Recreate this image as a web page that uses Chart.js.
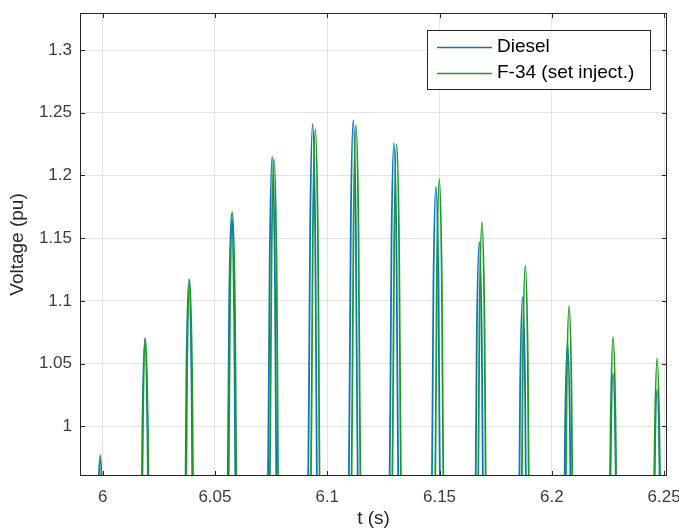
<!DOCTYPE html>
<html>
<head>
<meta charset="utf-8">
<script src="https://cdn.jsdelivr.net/npm/chart.js@4.4.1/dist/chart.umd.min.js"></script>
<style>
  html, body { margin: 0; padding: 0; background: #fff; }
  #wrap { width: 679px; height: 528px; }
</style>
</head>
<body>
<div id="wrap"><canvas id="voltChart" width="679" height="528"></canvas></div>
<script>
// voltage peaks, 5 points per peak (rest of the wave is below the axis)
const dieselT = [
  5.9964, 5.9977, 5.9988, 5.9999, 6.0012,
  6.0164, 6.0177, 6.0188, 6.0199, 6.0212,
  6.0360, 6.0373, 6.0384, 6.0395, 6.0408,
  6.0550, 6.0563, 6.0574, 6.0585, 6.0598,
  6.0731, 6.0744, 6.0755, 6.0766, 6.0779,
  6.0911, 6.0924, 6.0935, 6.0946, 6.0959,
  6.1092, 6.1105, 6.1116, 6.1127, 6.1140,
  6.1273, 6.1286, 6.1297, 6.1308, 6.1321,
  6.1460, 6.1473, 6.1484, 6.1495, 6.1508,
  6.1653, 6.1666, 6.1677, 6.1688, 6.1701,
  6.1846, 6.1859, 6.1870, 6.1881, 6.1894,
  6.2046, 6.2059, 6.2070, 6.2081, 6.2094,
  6.2249, 6.2262, 6.2273, 6.2284, 6.2297,
  6.2445, 6.2458, 6.2469, 6.2480, 6.2493
];
const dieselV = [
  0.687, 0.913, 0.976, 0.913, 0.687,
  0.753, 1.000, 1.070, 1.000, 0.753,
  0.786, 1.044, 1.117, 1.044, 0.786,
  0.824, 1.094, 1.170, 1.094, 0.824,
  0.855, 1.136, 1.215, 1.136, 0.855,
  0.874, 1.160, 1.241, 1.160, 0.874,
  0.876, 1.163, 1.244, 1.163, 0.876,
  0.863, 1.146, 1.226, 1.146, 0.863,
  0.838, 1.114, 1.191, 1.114, 0.838,
  0.807, 1.072, 1.147, 1.072, 0.807,
  0.777, 1.031, 1.103, 1.031, 0.777,
  0.750, 0.997, 1.066, 0.997, 0.750,
  0.734, 0.974, 1.042, 0.974, 0.734,
  0.724, 0.962, 1.029, 0.962, 0.724
];
const f34T = [
  5.9966, 5.9979, 5.9990, 6.0001, 6.0014,
  6.0166, 6.0179, 6.0190, 6.0201, 6.0214,
  6.0363, 6.0376, 6.0387, 6.0398, 6.0411,
  6.0554, 6.0567, 6.0578, 6.0589, 6.0602,
  6.0739, 6.0752, 6.0763, 6.0774, 6.0787,
  6.0923, 6.0936, 6.0947, 6.0958, 6.0971,
  6.1104, 6.1117, 6.1128, 6.1139, 6.1152,
  6.1285, 6.1298, 6.1309, 6.1320, 6.1333,
  6.1475, 6.1488, 6.1499, 6.1510, 6.1523,
  6.1665, 6.1678, 6.1689, 6.1700, 6.1713,
  6.1858, 6.1871, 6.1882, 6.1893, 6.1906,
  6.2053, 6.2066, 6.2077, 6.2088, 6.2101,
  6.2249, 6.2262, 6.2273, 6.2284, 6.2297,
  6.2445, 6.2458, 6.2469, 6.2480, 6.2493
];
const f34V = [
  0.688, 0.913, 0.977, 0.913, 0.688,
  0.753, 1.000, 1.070, 1.000, 0.753,
  0.786, 1.044, 1.117, 1.044, 0.786,
  0.824, 1.095, 1.171, 1.095, 0.824,
  0.854, 1.134, 1.213, 1.134, 0.854,
  0.871, 1.157, 1.237, 1.157, 0.871,
  0.873, 1.159, 1.240, 1.159, 0.873,
  0.862, 1.145, 1.225, 1.145, 0.862,
  0.843, 1.119, 1.197, 1.119, 0.843,
  0.819, 1.087, 1.163, 1.087, 0.819,
  0.794, 1.055, 1.128, 1.055, 0.794,
  0.772, 1.025, 1.096, 1.025, 0.772,
  0.754, 1.001, 1.071, 1.001, 0.754,
  0.742, 0.985, 1.054, 0.985, 0.742
];

const xTicks = [6, 6.05, 6.1, 6.15, 6.2, 6.25];
const xTickLabels = ["6", "6.05", "6.1", "6.15", "6.2", "6.25"];
const yTicks = [1, 1.05, 1.1, 1.15, 1.2, 1.25, 1.3];
const yTickLabels = ["1", "1.05", "1.1", "1.15", "1.2", "1.25", "1.3"];
const seriesNames = ["Diesel", "F-34 (set inject.)"];
const seriesColors = ["#0b76c2", "#1f9a24"];

const FONT = "'Liberation Sans', Arial, sans-serif";
const AXIS = "#262626";

// matlab style box, inward ticks and legend in the corner
const axesBox = {
  id: "axesBox",
  afterDraw(chart) {
    const { ctx, chartArea: a, scales } = chart;
    ctx.save();
    ctx.strokeStyle = AXIS;
    ctx.lineWidth = 1;
    ctx.strokeRect(a.left + 0.5, a.top + 0.5, a.right - a.left - 1, a.bottom - a.top - 1);

    const tl = 5;
    ctx.beginPath();
    xTicks.forEach((v) => {
      const px = Math.round(scales.x.getPixelForValue(v)) + 0.5;
      ctx.moveTo(px, a.bottom); ctx.lineTo(px, a.bottom - tl);
      ctx.moveTo(px, a.top); ctx.lineTo(px, a.top + tl);
    });
    yTicks.forEach((v) => {
      const py = Math.round(scales.y.getPixelForValue(v)) + 0.5;
      ctx.moveTo(a.left, py); ctx.lineTo(a.left + tl, py);
      ctx.moveTo(a.right, py); ctx.lineTo(a.right - tl, py);
    });
    ctx.stroke();

    // legend
    const lw = 223, lh = 59;
    const lx = a.right - 17 - lw, ly = a.top + 17;
    ctx.fillStyle = "#fff";
    ctx.fillRect(lx, ly, lw, lh);
    ctx.strokeStyle = AXIS;
    ctx.strokeRect(lx + 0.5, ly + 0.5, lw, lh);
    ctx.font = "19px " + FONT;
    ctx.textBaseline = "middle";
    seriesNames.forEach((name, i) => {
      const ry = ly + 17 + i * 26;
      ctx.strokeStyle = seriesColors[i];
      ctx.lineWidth = 1.5;
      ctx.beginPath();
      ctx.moveTo(lx + 10, ry + 0.5);
      ctx.lineTo(lx + 65, ry + 0.5);
      ctx.stroke();
      ctx.fillStyle = "#000";
      ctx.fillText(name, lx + 70, ry);
    });
    ctx.restore();
  }
};

const toPoints = (ts, vs) => ts.map((t, i) => ({ x: t, y: vs[i] }));

new Chart(document.getElementById("voltChart"), {
  type: "line",
  data: {
    datasets: [
      {
        label: seriesNames[0],
        data: toPoints(dieselT, dieselV),
        borderColor: seriesColors[0],
        borderWidth: 1.8,
        pointRadius: 0,
        cubicInterpolationMode: "monotone",
        order: 1,
      },
      {
        label: seriesNames[1],
        data: toPoints(f34T, f34V),
        borderColor: seriesColors[1],
        borderWidth: 1.8,
        pointRadius: 0,
        cubicInterpolationMode: "monotone",
        order: 0,
      },
    ],
  },
  options: {
    responsive: false,
    animation: false,
    layout: { padding: { left: 0, top: 13, right: 12, bottom: 0 } },
    plugins: {
      legend: { display: false },
      tooltip: { enabled: false },
    },
    scales: {
      x: {
        type: "linear",
        min: 5.9899,
        max: 6.2513,
        afterBuildTicks: (s) => { s.ticks = xTicks.map((v) => ({ value: v })); },
        afterFit: (s) => {
          s.height = 52;
          s.paddingLeft = 0; s.paddingRight = 0;
        },
        ticks: {
          padding: 11,
          maxRotation: 0,
          autoSkip: false,
          color: "#3c3c3c",
          font: { family: FONT, size: 17 },
          callback: (v) => xTickLabels[xTicks.indexOf(v)],
        },
        grid: { color: "#e3e3e3", drawTicks: false },
        border: { display: false },
        title: {
          display: true,
          text: "t (s)",
          color: AXIS,
          font: { family: FONT, size: 19, lineHeight: 1 },
          padding: { top: 0, bottom: 0 },
        },
      },
      y: {
        type: "linear",
        min: 0.9604,
        max: 1.3295,
        afterBuildTicks: (s) => { s.ticks = yTicks.map((v) => ({ value: v })); },
        afterFit: (s) => {
          s.width = 80;
          s.paddingTop = 0; s.paddingBottom = 0;
        },
        ticks: {
          padding: 8,
          autoSkip: false,
          color: "#3c3c3c",
          font: { family: FONT, size: 17 },
          callback: (v) => yTickLabels[yTicks.indexOf(v)],
        },
        grid: { color: "#e3e3e3", drawTicks: false },
        border: { display: false },
        title: {
          display: true,
          text: "Voltage (pu)",
          color: AXIS,
          font: { family: FONT, size: 19, lineHeight: 1 },
          padding: { top: 8, bottom: 0 },
        },
      },
    },
  },
  plugins: [axesBox],
});
</script>
</body>
</html>
